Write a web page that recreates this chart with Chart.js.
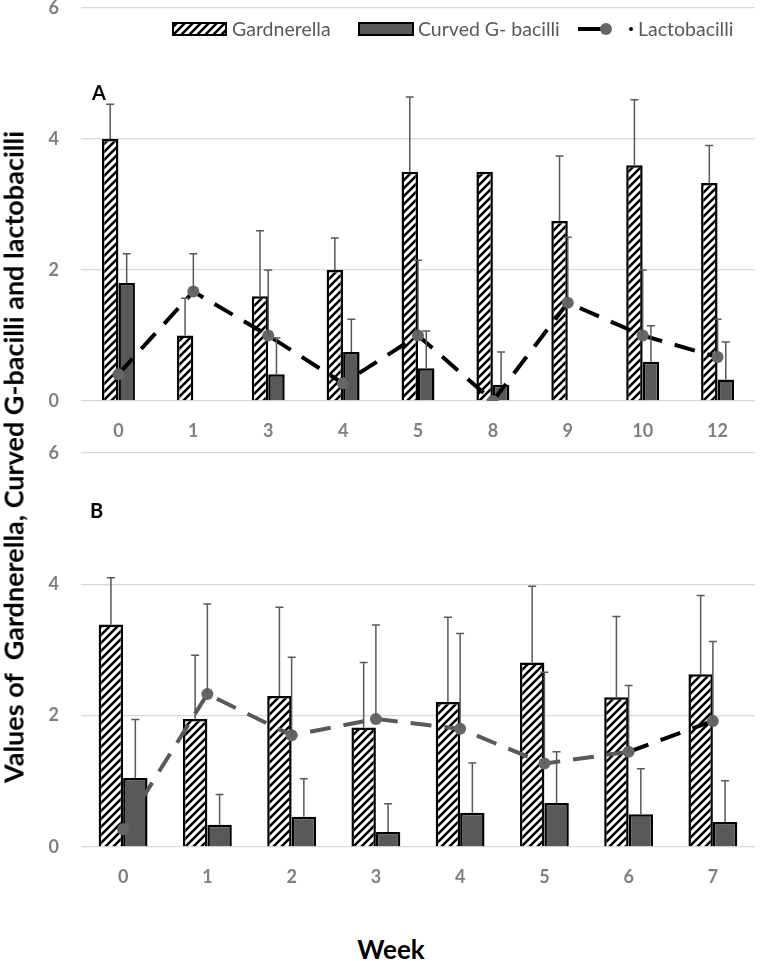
<!DOCTYPE html>
<html>
<head>
<meta charset="utf-8">
<script src="https://cdn.jsdelivr.net/npm/chart.js@4.4.1/dist/chart.umd.min.js"></script>
<style>
  body { margin: 0; background: #fff; width: 761px; height: 961px; position: relative; overflow: hidden; font-family: Lato, "Open Sans", sans-serif; }
  #wa { position: absolute; left: 0; top: 0; width: 761px; height: 450px; }
  #wb { position: absolute; left: 0; top: 440px; width: 761px; height: 456px; }
  .lbl { position: absolute; font-weight: bold; color: #000; line-height: 1; white-space: nowrap; }
  #ytitle { left: 13px; top: 457px; font-size: 27px; transform: translate(-50%, -50%) rotate(-90deg); }
  #week { left: 391px; top: 949px; font-size: 26px; transform: translate(-50%, -50%); }
  #la { left: 92px; top: 82px; font-size: 20px; }
  #lb { left: 90px; top: 500px; font-size: 20px; }
</style>
</head>
<body>
<div id="wa"><canvas id="chartA"></canvas></div>
<div id="wb"><canvas id="chartB"></canvas></div>
<div class="lbl" id="ytitle">Values of&nbsp; Gardnerella, Curved G-bacilli and lactobacilli</div>
<div class="lbl" id="week">Week</div>
<div class="lbl" id="la">A</div>
<div class="lbl" id="lb">B</div>
<script>
// panel A
var weeksA = ["0", "1", "3", "4", "5", "8", "9", "10", "12"];
var gardA = [4.0, 1.0, 1.6, 2.0, 3.5, 3.5, 2.75, 3.6, 3.33];
var gardErrA = [0.53, 0.57, 1.0, 0.49, 1.14, null, 0.99, 1.0, 0.57];
var curvedA = [1.8, 0, 0.41, 0.75, 0.5, 0.25, 0, 0.6, 0.33];
var curvedErrA = [0.45, null, 0.55, 0.5, 0.57, 0.5, null, 0.55, 0.57];
var lactoA = [0.41, 1.67, 1.0, 0.27, 1.0, 0, 1.5, 1.0, 0.67];
var lactoErrA = [null, 0.58, 1.0, null, 1.15, null, 1.0, 1.0, 0.58];

// panel B
var weeksB = ["0", "1", "2", "3", "4", "5", "6", "7"];
var gardB = [3.39, 1.95, 2.3, 1.82, 2.21, 2.81, 2.28, 2.63];
var gardErrB = [0.71, 0.97, 1.35, 0.99, 1.29, 1.16, 1.23, 1.2];
var curvedB = [1.05, 0.34, 0.46, 0.23, 0.52, 0.67, 0.5, 0.38];
var curvedErrB = [0.89, 0.46, 0.58, 0.43, 0.76, 0.78, 0.69, 0.63];
var lactoB = [0.27, 2.33, 1.7, 1.95, 1.8, 1.27, 1.45, 1.92];
var lactoErrB = [null, 1.37, 1.19, 1.43, 1.45, 1.39, 1.01, 1.21];

var yTicks = [0, 2, 4, 6];

var DARK = "#595959";
var TICK = "#7f7f7f";

function hatch() {
  var c = document.createElement("canvas");
  c.width = 8; c.height = 8;
  var g = c.getContext("2d");
  g.fillStyle = "#fff";
  g.fillRect(0, 0, 8, 8);
  g.strokeStyle = "#000";
  g.lineWidth = 2.6;
  g.beginPath();
  g.moveTo(-2, 10); g.lineTo(10, -2);
  g.moveTo(-2, 2); g.lineTo(2, -2);
  g.moveTo(6, 10); g.lineTo(10, 6);
  g.stroke();
  return g.createPattern(c, "repeat");
}

var errorBars = {
  id: "errorBars",
  afterDatasetsDraw: function (chart) {
    var ctx = chart.ctx, ys = chart.scales.y;
    chart.data.datasets.forEach(function (ds, i) {
      if (!ds.errors) return;
      var meta = chart.getDatasetMeta(i);
      meta.data.forEach(function (el, j) {
        var e = ds.errors[j];
        if (e == null) return;
        var x = el.x;
        var y0 = ys.getPixelForValue(ds.data[j]);
        var y1 = ys.getPixelForValue(ds.data[j] + e);
        ctx.save();
        ctx.strokeStyle = DARK;
        ctx.lineWidth = 1.5;
        ctx.beginPath();
        ctx.moveTo(x, y0); ctx.lineTo(x, y1);
        ctx.moveTo(x - 4, y1); ctx.lineTo(x + 4, y1);
        ctx.stroke();
        ctx.restore();
      });
    });
  }
};

var legendPlugin = {
  id: "legendTop",
  afterDraw: function (chart) {
    var ctx = chart.ctx;
    ctx.save();
    ctx.font = "19.5px Lato";
    ctx.textBaseline = "middle";
    ctx.fillStyle = hatch();
    ctx.fillRect(173, 23, 53, 12);
    ctx.strokeStyle = "#000";
    ctx.lineWidth = 2;
    ctx.strokeRect(173, 23, 53, 12);
    ctx.fillStyle = DARK;
    ctx.fillText("Gardnerella", 232, 30);
    ctx.fillStyle = DARK;
    ctx.fillRect(359, 23, 54, 12);
    ctx.strokeRect(359, 23, 54, 12);
    ctx.fillText("Curved G- bacilli", 418, 30);
    ctx.strokeStyle = "#000";
    ctx.lineWidth = 4;
    ctx.beginPath(); ctx.moveTo(578, 29); ctx.lineTo(606, 29); ctx.stroke();
    ctx.fillStyle = "#666";
    ctx.beginPath(); ctx.arc(606, 29, 6, 0, Math.PI * 2); ctx.fill();
    ctx.fillStyle = "#000";
    ctx.beginPath(); ctx.arc(631, 29, 2, 0, Math.PI * 2); ctx.fill();
    ctx.fillStyle = DARK;
    ctx.fillText("Lactobacilli", 638, 30);
    ctx.restore();
  }
};

function makeChart(id, labels, gard, gardErr, curved, curvedErr, lacto, lactoErr, catPct, padTop, segColor, extra) {
  var ctx = document.getElementById(id).getContext("2d");
  return new Chart(ctx, {
    type: "bar",
    data: {
      labels: labels,
      datasets: [
        {
          type: "line",
          label: "Lactobacilli",
          data: lacto,
          errors: lactoErr,
          order: 0,
          borderColor: "#000",
          borderWidth: 4,
          borderDash: [21, 13],
          fill: false,
          lineTension: 0,
          pointRadius: 6,
          pointHoverRadius: 6,
          pointBackgroundColor: "#666",
          pointBorderWidth: 0,
          segment: { borderColor: segColor }
        },
        {
          label: "Gardnerella",
          data: gard,
          errors: gardErr,
          order: 1,
          backgroundColor: hatch(),
          borderColor: "#000",
          borderWidth: 2.5,
          categoryPercentage: catPct,
          barPercentage: 1
        },
        {
          label: "Curved G- bacilli",
          data: curved,
          errors: curvedErr,
          order: 1,
          backgroundColor: DARK,
          borderColor: "#000",
          borderWidth: 2.5,
          categoryPercentage: catPct,
          barPercentage: 1
        }
      ]
    },
    options: {
      responsive: true,
      maintainAspectRatio: false,
      animation: false,
      layout: { padding: { left: 0, right: 1, top: padTop, bottom: 0 } },
      plugins: { legend: { display: false }, tooltip: { enabled: false } },
      scales: {
        x: {
          grid: { display: false, drawTicks: false },
          border: { display: false },
          ticks: { color: TICK, font: { family: "Lato", size: 18, weight: "bold" }, padding: 19 },
          afterFit: function (s) { s.height = 49; }
        },
        y: {
          min: 0,
          max: 6,
          afterBuildTicks: function (s) { s.ticks = yTicks.map(function (v) { return { value: v }; }); },
          grid: { color: "#d9d9d9", lineWidth: 1.3, drawTicks: false },
          border: { display: false },
          ticks: { color: TICK, font: { family: "Lato", size: 18, weight: "bold" }, padding: 22 },
          afterFit: function (s) { s.width = 81; s.paddingTop = 0; s.paddingBottom = 0; }
        }
      }
    },
    plugins: [errorBars].concat(extra)
  });
}

makeChart("chartA", weeksA, gardA, gardErrA, curvedA, curvedErrA, lactoA, lactoErrA, 0.44, 8,
  function () { return "#000"; }, [legendPlugin]);
makeChart("chartB", weeksB, gardB, gardErrB, curvedB, curvedErrB, lactoB, lactoErrB, 0.58, 13,
  function (c) { return c.p0DataIndex === 6 ? "#000" : DARK; }, []);
</script>
</body>
</html>
